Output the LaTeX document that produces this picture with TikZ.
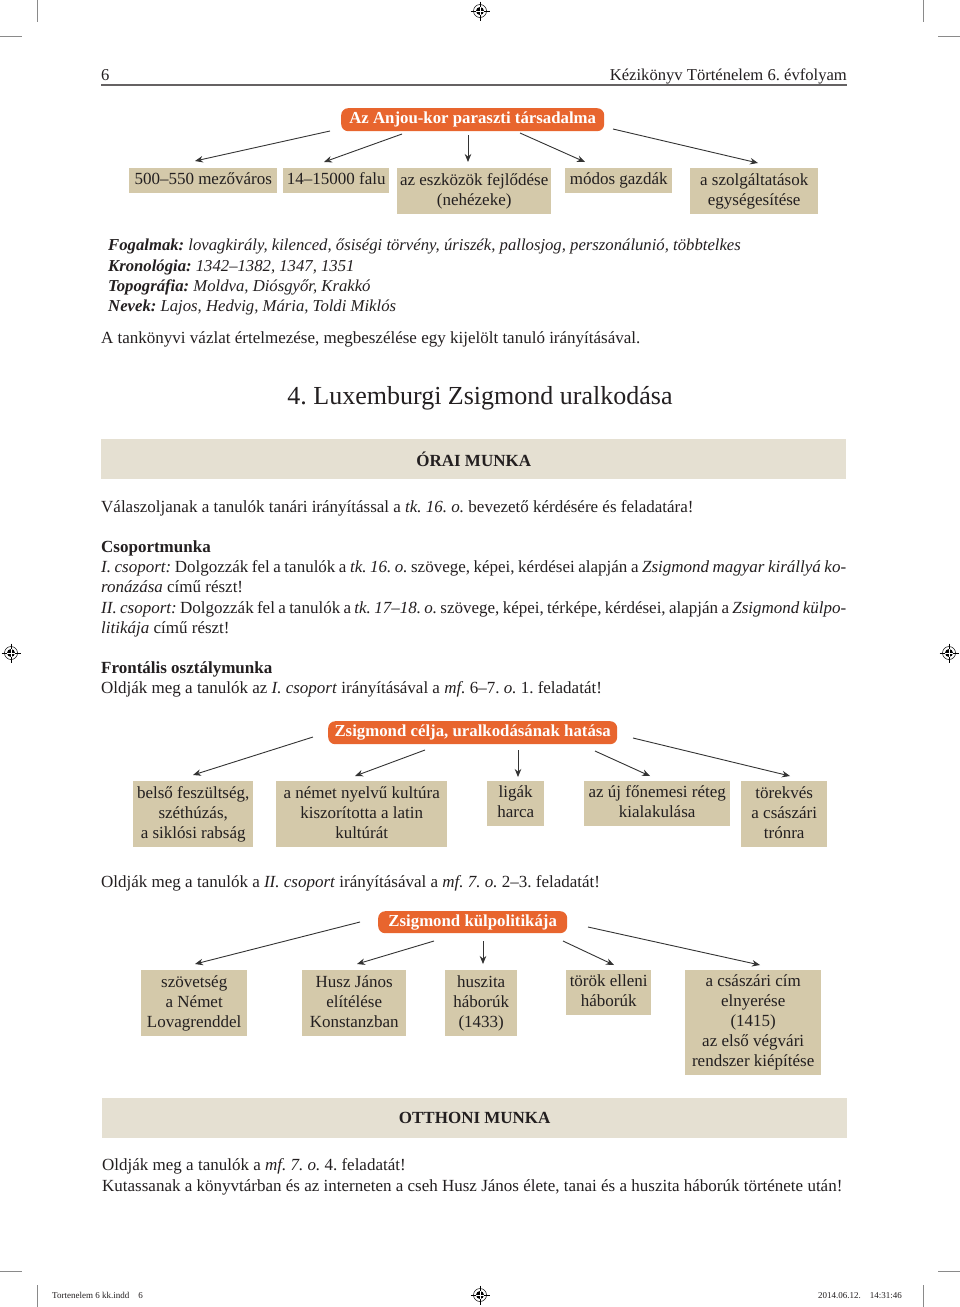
\documentclass[tikz,border=0pt]{standalone}
\usepackage{fontspec}
\setmainfont{Liberation Serif}
\usetikzlibrary{arrows.meta}
\definecolor{orng}{HTML}{E8652E}
\definecolor{tan}{HTML}{D4C9AA}
\definecolor{bandc}{HTML}{E5E0D2}
\definecolor{txt}{HTML}{231F20}
\definecolor{arrc}{HTML}{333333}
\definecolor{markc}{HTML}{8A8A8A}
\frenchspacing
\newcommand{\bodyfont}{\fontsize{17}{20}\selectfont}
\newcommand{\kwfont}{\fontsize{16.7}{20}\selectfont\itshape}
\newcommand{\ttlfont}{\fontsize{16.8}{20}\selectfont\bfseries}
\newcommand{\headfont}{\fontsize{16.6}{20}\selectfont}
\newcommand{\bigfont}{\fontsize{26}{30}\selectfont}
\newcommand{\smallfont}{\fontsize{9}{10}\selectfont}
\tikzset{
  tx/.style={anchor=base west, inner sep=0pt, font=\bodyfont, text=txt},
  box/.style={fill=tan, inner xsep=2pt, inner ysep=0pt, align=center, font=\bodyfont, text=txt, anchor=north west},
  ttl/.style={fill=orng, rounded corners=7pt, text=white, font=\ttlfont, inner xsep=4pt, inner ysep=0pt, anchor=north west},
  arr/.style={draw=arrc, line width=0.9pt, -{Stealth[length=8pt,width=6.5pt]}},
  band/.style={fill=bandc, anchor=north west, inner sep=0pt, font=\bodyfont\bfseries, text=txt},
  crop/.style={draw=markc, line width=0.8pt},
  regm/.pic={
    \draw[line width=0.5pt] (0,0) circle (6.5);
    \fill (0,0) circle (4);
    \draw[line width=0.5pt] (-9.5,0) -- (9.5,0) (0,-9.5) -- (0,9.5);
    \draw[white, line width=0.4pt] (-4,0) -- (4,0) (0,-4) -- (0,4);
  }
}
\begin{document}
\begin{tikzpicture}[x=1pt,y=-1pt]
\useasboundingbox (0,0) rectangle (960,1307);
\fill[white] (0,0) rectangle (960,1307);

% crop marks
\draw[crop] (37,0) -- (37,22) (923,0) -- (923,22);
\draw[crop] (0,36) -- (22,36) (938,36) -- (960,36);
\draw[crop] (0,1271) -- (22,1271) (938,1271) -- (960,1271);
\draw[crop] (37,1285) -- (37,1307) (923,1285) -- (923,1307);
% registration marks
\pic at (480,11) {regm};
\pic at (11,653) {regm};
\pic at (949,653) {regm};
\pic at (480,1295) {regm};

% header
\node[tx, font=\headfont] (pnum) at (101,80) {6};
\node[tx, font=\headfont, anchor=base east] (htitle) at (847,80) {Kézikönyv Történelem 6. évfolyam};
\draw[draw=txt!70, line width=1.4pt] (101,85) -- (847,85);

% diagram 1
\node[ttl, minimum width=263, minimum height=23] (t1) at (341,108) {Az Anjou-kor paraszti társadalma};
\node[box, minimum width=148, minimum height=25] (b1) at (129,168) {\strut 500–550 mezőváros};
\node[box, minimum width=106, minimum height=25] (b2) at (283,168) {\strut 14–15000 falu};
\node[box, minimum width=154, minimum height=46] (b3) at (397,168) {\strut az eszközök fejlődése\\(nehézeke)\strut};
\node[box, minimum width=107, minimum height=25] (b4) at (565,168) {\strut módos gazdák};
\node[box, minimum width=128, minimum height=46] (b5) at (690,168) {\strut a szolgáltatások\\egységesítése\strut};
\coordinate (a1s) at (330,131); \coordinate (a1e) at (195,161);
\coordinate (a2s) at (402,134); \coordinate (a2e) at (324,162);
\coordinate (a3s) at (468,135); \coordinate (a3e) at (468,162);
\coordinate (a4s) at (520,133); \coordinate (a4e) at (585,162);
\coordinate (a5s) at (613,129); \coordinate (a5e) at (758,163);
\foreach \i in {1,...,5} \draw[arr] (a\i s) -- (a\i e);

% keywords
\node[tx, font=\kwfont] (kw1) at (108,250) {\textbf{Fogalmak:} lovagkirály, kilenced, ősiségi törvény, úriszék, pallosjog, perszonálunió, többtelkes};
\node[tx, font=\kwfont] (kw2) at (108,271) {\textbf{Kronológia:} 1342–1382, 1347, 1351};
\node[tx, font=\kwfont] (kw3) at (108,291) {\textbf{Topográfia:} Moldva, Diósgyőr, Krakkó};
\node[tx, font=\kwfont] (kw4) at (108,311) {\textbf{Nevek:} Lajos, Hedvig, Mária, Toldi Miklós};
\node[tx] (p1) at (101,343) {A tankönyvi vázlat értelmezése, megbeszélése egy kijelölt tanuló irányításával.};

% heading
\node[anchor=base, inner sep=0pt, font=\bigfont, text=txt] (h4) at (480,404) {4. Luxemburgi Zsigmond uralkodása};
\node[band, minimum width=745, minimum height=40] (band1) at (101,439) {ÓRAI MUNKA};

\node[tx] (p2) at (101,512) {Válaszoljanak a tanulók tanári irányítással a \textit{tk. 16. o.} bevezető kérdésére és feladatára!};
\node[tx, font=\bodyfont\bfseries] (p3) at (101,552) {Csoportmunka};
\node[tx] (p4) at (101,572) {\hbox to 745pt{\textit{I. csoport:} Dolgozzák fel a tanulók a \textit{tk. 16. o.} szövege, képei, kérdései alapján a \textit{Zsigmond magyar királlyá ko-}}};
\node[tx] (p5) at (101,592) {\textit{ronázása} című részt!};
\node[tx] (p6) at (101,613) {\hbox to 745pt{\textit{II. csoport:} Dolgozzák fel a tanulók a \textit{tk. 17–18. o.} szövege, képei, térképe, kérdései, alapján a \textit{Zsigmond külpo-}}};
\node[tx] (p7) at (101,633) {\textit{litikája} című részt!};
\node[tx, font=\bodyfont\bfseries] (p8) at (101,673) {Frontális osztálymunka};
\node[tx] (p9) at (101,693) {Oldják meg a tanulók az \textit{I. csoport} irányításával a \textit{mf.} 6–7. \textit{o.} 1. feladatát!};

% diagram 2
\node[ttl, minimum width=289, minimum height=23] (t2) at (328,721) {Zsigmond célja, uralkodásának hatása};
\node[box, minimum width=120, minimum height=66] (c1) at (133,781) {\strut belső feszültség,\\széthúzás,\\a siklósi rabság\strut};
\node[box, minimum width=171, minimum height=66] (c2) at (276,781) {\strut a német nyelvű kultúra\\kiszorította a latin\\kultúrát\strut};
\node[box, minimum width=57, minimum height=45] (c3) at (487,781) {\strut ligák\\harca\strut};
\node[box, minimum width=146, minimum height=45] (c4) at (584,781) {\strut az új főnemesi réteg\\kialakulása\strut};
\node[box, minimum width=86, minimum height=66] (c5) at (741,781) {\strut törekvés\\a császári\\trónra\strut};
\coordinate (b1s) at (313,737); \coordinate (b1e) at (193,775);
\coordinate (b2s) at (425,750); \coordinate (b2e) at (355,776);
\coordinate (b3s) at (518,750); \coordinate (b3e) at (518,777);
\coordinate (b4s) at (595,751); \coordinate (b4e) at (650,776);
\coordinate (b5s) at (633,738); \coordinate (b5e) at (790,776);
\foreach \i in {1,...,5} \draw[arr] (b\i s) -- (b\i e);

\node[tx] (p10) at (101,887) {Oldják meg a tanulók a \textit{II. csoport} irányításával a \textit{mf. 7. o.} 2–3. feladatát!};

% diagram 3
\node[ttl, minimum width=189, minimum height=22] (t3) at (378,911) {Zsigmond külpolitikája};
\node[box, minimum width=106, minimum height=66] (d1) at (141,970) {\strut szövetség\\a Német\\Lovagrenddel\strut};
\node[box, minimum width=104, minimum height=66] (d2) at (302,970) {\strut Husz János\\elítélése\\Konstanzban\strut};
\node[box, minimum width=72, minimum height=66] (d3) at (445,970) {\strut huszita\\háborúk\\(1433)\strut};
\node[box, minimum width=85, minimum height=45] (d4) at (566,970) {\strut török elleni\\háborúk\strut};
\node[box, minimum width=136, minimum height=105] (d5) at (685,970) {\strut a császári cím\\elnyerése\\(1415)\\az első végvári\\rendszer kiépítése\strut};
\coordinate (c1s) at (360,922); \coordinate (c1e) at (195,964);
\coordinate (c2s) at (434,941); \coordinate (c2e) at (357,964);
\coordinate (c3s) at (483,941); \coordinate (c3e) at (483,964);
\coordinate (c4s) at (563,941); \coordinate (c4e) at (614,965);
\coordinate (c5s) at (588,927); \coordinate (c5e) at (760,965);
\foreach \i in {1,...,5} \draw[arr] (c\i s) -- (c\i e);

\node[band, minimum width=745, minimum height=40] (band2) at (102,1098) {OTTHONI MUNKA};
\node[tx] (p11) at (102,1170) {Oldják meg a tanulók a \textit{mf. 7. o.} 4. feladatát!};
\node[tx] (p12) at (102,1191) {Kutassanak a könyvtárban és az interneten a cseh Husz János élete, tanai és a huszita háborúk története után!};

% footer
\node[tx, font=\smallfont] (f1) at (52,1298) {Tortenelem 6 kk.indd\quad 6};
\node[tx, font=\smallfont, anchor=base east] (f2) at (902,1298) {2014.06.12.\quad 14:31:46};
\end{tikzpicture}
\end{document}
